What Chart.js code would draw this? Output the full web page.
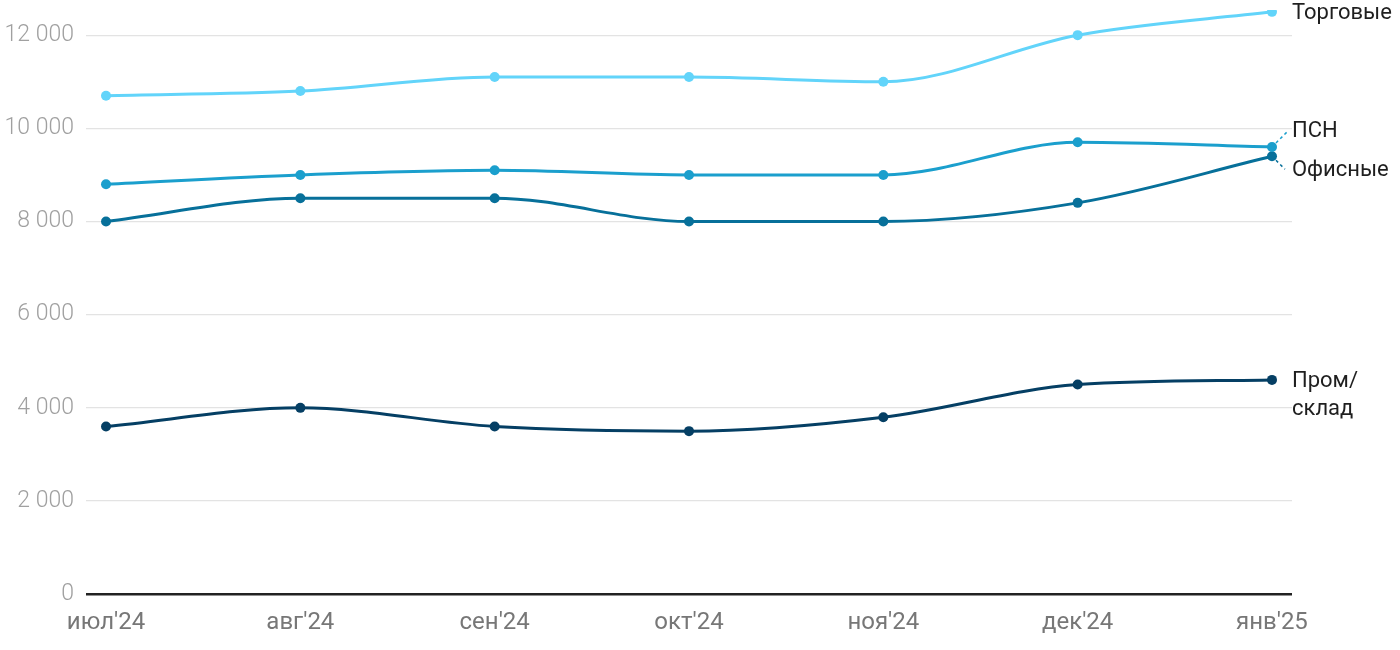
<!DOCTYPE html>
<html>
<head>
<meta charset="utf-8">
<script src="https://cdn.jsdelivr.net/npm/chart.js@4"></script>
<style>
  html, body { margin: 0; padding: 0; background: #fff; }
  #wrap { width: 1400px; height: 650px; }
</style>
</head>
<body>
<div id="wrap"><canvas id="chart" width="1400" height="650"></canvas></div>
<script>
// Data
var months = ["июл'24", "авг'24", "сен'24", "окт'24", "ноя'24", "дек'24", "янв'25"]
var retail = [10700, 10800, 11100, 11100, 11000, 12000, 12500]
var freeUse = [8800, 9000, 9100, 9000, 9000, 9700, 9600]
var office = [8000, 8500, 8500, 8000, 8000, 8400, 9400]
var industrial = [3600, 4000, 3600, 3500, 3800, 4500, 4600]
var yTicks = [0, 2000, 4000, 6000, 8000, 10000, 12000]

// Series names and colours
var names = [["Торговые"], ["ПСН"], ["Офисные"], ["Пром/", "склад"]]
var colors = ["#62d4fa", "#1b9fcd", "#07709a", "#053f64"]

function toPoints(arr) {
    return arr.map((v, i) => ({ x: i, y: v }))
}

function formatNum(v) {
    return String(v).replace(/\B(?=(\d{3})+(?!\d))/g, " ")
}

// label offsets next to the last point
var labelOffsets = [
    { dy: 2, dash: null },
    { dy: -15, dash: [[4, -4], [15, -15]] },
    { dy: 14, dash: [[4, 4], [13, 13]] },
    { dy: 2, dash: null }
]

const endLabels = {
    id: "endLabels",
    afterDatasetsDraw(chart) {
        const ctx = chart.ctx
        ctx.save()
        ctx.font = "22px Roboto"
        ctx.fillStyle = "#1f1f1f"
        ctx.textBaseline = "middle"
        ctx.textAlign = "left"
        chart.data.datasets.forEach((ds, i) => {
            const pt = chart.getDatasetMeta(i).data[ds.data.length - 1]
            const off = labelOffsets[i]
            const lx = pt.x + 20
            const ly = pt.y + off.dy
            if (off.dash) {
                ctx.strokeStyle = colors[i]
                ctx.lineWidth = 1.5
                ctx.setLineDash([3, 3])
                ctx.beginPath()
                ctx.moveTo(pt.x + off.dash[0][0], pt.y + off.dash[0][1])
                ctx.lineTo(pt.x + off.dash[1][0], pt.y + off.dash[1][1])
                ctx.stroke()
                ctx.setLineDash([])
            }
            names[i].forEach((line, k) => {
                ctx.fillText(line, lx, ly + k * 28)
            })
        })
        ctx.restore()
    }
}

function makeSet(label, data, color) {
    return {
        label: label,
        data: toPoints(data),
        borderColor: color,
        backgroundColor: color,
        borderWidth: 3,
        pointRadius: 5,
        pointBorderWidth: 0,
        pointHoverRadius: 5,
        cubicInterpolationMode: "monotone"
    }
}

Chart.defaults.font.family = "Roboto"

new Chart("chart", {
    type: "line",
    data: {
        datasets: [
            makeSet("Торговые", retail, colors[0]),
            makeSet("ПСН", freeUse, colors[1]),
            makeSet("Офисные", office, colors[2]),
            makeSet("Пром/склад", industrial, colors[3])
        ]
    },
    options: {
        responsive: false,
        animation: false,
        layout: { padding: { top: 10, right: 108, left: 0, bottom: -1 } },
        plugins: {
            legend: { display: false },
            tooltip: { enabled: false }
        },
        scales: {
            x: {
                type: "linear",
                min: -0.103,
                max: 6.103,
                afterBuildTicks: axis => {
                    axis.ticks = months.map((m, i) => ({ value: i }))
                },
                ticks: {
                    callback: v => months[v],
                    color: "#777",
                    font: { size: 24 },
                    padding: 14,
                    maxRotation: 0,
                    autoSkip: false
                },
                grid: { display: false, drawTicks: false },
                border: { display: false }
            },
            y: {
                min: 0,
                max: 12540,
                afterBuildTicks: axis => {
                    axis.ticks = yTicks.map(v => ({ value: v }))
                },
                afterFit: axis => {
                    axis.width = 86
                    axis.paddingTop = 0
                    axis.paddingBottom = 0
                },
                ticks: {
                    callback: v => formatNum(v),
                    color: "#a0a0a0",
                    font: { size: 23, weight: 300 },
                    padding: 12
                },
                grid: {
                    drawTicks: false,
                    color: c => c.tick && c.tick.value === 0 ? "#222" : "#e3e3e3",
                    lineWidth: c => c.tick && c.tick.value === 0 ? 2.5 : 1.2
                },
                border: { display: false }
            }
        }
    },
    plugins: [endLabels]
})
</script>
</body>
</html>
